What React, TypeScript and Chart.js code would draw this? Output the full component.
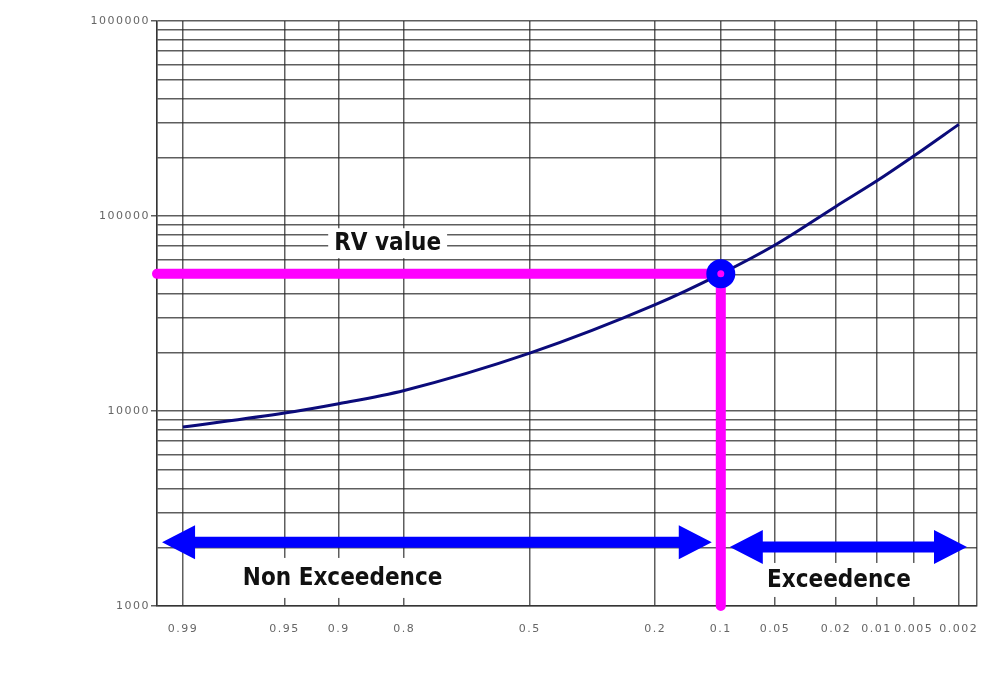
import React, { useEffect, useRef } from "react";
import { Chart, registerables } from "chart.js";

Chart.register(...registerables);

// ---- data ----
const exceedanceLabels = ["0.99", "0.95", "0.9", "0.8", "0.5", "0.2", "0.1", "0.05", "0.02", "0.01", "0.005", "0.002"];
const exceedanceProb = [0.99, 0.95, 0.9, 0.8, 0.5, 0.2, 0.1, 0.05, 0.02, 0.01, 0.005, 0.002];
const rvValues = [8270, 9760, 10900, 12750, 19800, 35100, 50500, 71000, 112000, 151000, 203000, 295000];

const rvPointProb = 0.1;
const rvPointValue = 50500;

const yDecades = [1000, 10000, 100000, 1000000];
const yMultipliers = [1, 2, 3, 4, 5, 6, 7, 8, 9];

const noteTexts = ["RV value", "Non Exceedence", "Exceedence"];
// anchors in data units: [z, value]
const noteAnchors: [number, number][] = [[-0.953, 72500], [-1.255, 1393], [2.074, 1360]];
const noteBoxHeights = [30, 40, 34];

// double arrows in data units: [zStart, zEnd, value]
const arrowSpans: [number, number, number][] = [[-2.466, 1.221, 2120], [1.342, 2.933, 2010]];

// ---- normal quantile (probability axis mapping) ----
function normInv(p: number): number {
  const a = [-3.969683028665376e1, 2.209460984245205e2, -2.759285104469687e2, 1.38357751867269e2, -3.066479806614716e1, 2.506628277459239];
  const b = [-5.447609879822406e1, 1.615858368580409e2, -1.556989798598866e2, 6.680131188771972e1, -1.328068155288572e1];
  const c = [-7.784894002430293e-3, -3.223964580411365e-1, -2.400758277161838, -2.549732539343734, 4.374664141464968, 2.938163982698783];
  const d = [7.784695709041462e-3, 3.224671290700398e-1, 2.445134137142996, 3.754408661907416];
  const pl = 0.02425;
  let q: number, r: number;
  if (p < pl) {
    q = Math.sqrt(-2 * Math.log(p));
    return (((((c[0] * q + c[1]) * q + c[2]) * q + c[3]) * q + c[4]) * q + c[5]) / ((((d[0] * q + d[1]) * q + d[2]) * q + d[3]) * q + 1);
  } else if (p <= 1 - pl) {
    q = p - 0.5;
    r = q * q;
    return ((((((a[0] * r + a[1]) * r + a[2]) * r + a[3]) * r + a[4]) * r + a[5]) * q) / (((((b[0] * r + b[1]) * r + b[2]) * r + b[3]) * r + b[4]) * r + 1);
  }
  q = Math.sqrt(-2 * Math.log(1 - p));
  return -(((((c[0] * q + c[1]) * q + c[2]) * q + c[3]) * q + c[4]) * q + c[5]) / ((((d[0] * q + d[1]) * q + d[2]) * q + d[3]) * q + 1);
}
const zOf = (exc: number) => normInv(1 - exc);

const X_MIN = -2.5;
const X_MAX = 3.0;

const xTickValues = [X_MIN, ...exceedanceProb.map(zOf), X_MAX];
const xTickLabels = ["", ...exceedanceLabels, ""];
const yTickValues: number[] = [];
yDecades.slice(0, -1).forEach((d) => yMultipliers.forEach((m) => yTickValues.push(d * m)));
yTickValues.push(yDecades[yDecades.length - 1]);

const NOTE_FONT = "bold 24px 'DejaVu Sans Condensed', 'DejaVu Sans', sans-serif";

const zeroPadding = (scale: any) => {
  scale.paddingTop = 0;
  scale.paddingBottom = 0;
  scale.paddingLeft = 0;
  scale.paddingRight = 0;
};

const overlayPlugin = {
  id: "overlay",
  beforeDraw(chart: any) {
    chart.ctx.letterSpacing = "1.5px";
  },
  beforeDatasetsDraw(chart: any) {
    const ctx = chart.ctx;
    const xs = chart.scales.x;
    const ys = chart.scales.y;
    ctx.save();
    ctx.letterSpacing = "0px";
    ctx.font = NOTE_FONT;
    noteTexts.forEach((t, i) => {
      const cx = xs.getPixelForValue(noteAnchors[i][0]);
      const cy = ys.getPixelForValue(noteAnchors[i][1]);
      const w = ctx.measureText(t).width + 12;
      const h = noteBoxHeights[i];
      ctx.fillStyle = "#ffffff";
      ctx.fillRect(cx - w / 2, cy - h / 2, w, h);
    });
    ctx.restore();
  },
  afterDatasetsDraw(chart: any) {
    const ctx = chart.ctx;
    const xs = chart.scales.x;
    const ys = chart.scales.y;
    ctx.save();
    ctx.letterSpacing = "0px";
    ctx.fillStyle = "#0000ff";
    const headLen = 33;
    const headHalf = 17;
    const shaftHalf = 5.5;
    arrowSpans.forEach(([z1, z2, v]) => {
      const x1 = xs.getPixelForValue(z1);
      const x2 = xs.getPixelForValue(z2);
      const y = ys.getPixelForValue(v);
      ctx.beginPath();
      ctx.moveTo(x1, y);
      ctx.lineTo(x1 + headLen, y - headHalf);
      ctx.lineTo(x1 + headLen, y - shaftHalf);
      ctx.lineTo(x2 - headLen, y - shaftHalf);
      ctx.lineTo(x2 - headLen, y - headHalf);
      ctx.lineTo(x2, y);
      ctx.lineTo(x2 - headLen, y + headHalf);
      ctx.lineTo(x2 - headLen, y + shaftHalf);
      ctx.lineTo(x1 + headLen, y + shaftHalf);
      ctx.lineTo(x1 + headLen, y + headHalf);
      ctx.closePath();
      ctx.fill();
    });
    ctx.font = NOTE_FONT;
    ctx.fillStyle = "#111111";
    ctx.textAlign = "center";
    ctx.textBaseline = "middle";
    noteTexts.forEach((t, i) => {
      const cx = xs.getPixelForValue(noteAnchors[i][0]);
      const cy = ys.getPixelForValue(noteAnchors[i][1]);
      ctx.fillText(t, cx, cy + 1);
    });
    ctx.restore();
  },
};

export default function App() {
  const canvasRef = useRef<HTMLCanvasElement | null>(null);

  useEffect(() => {
    if (!canvasRef.current) return;
    const curve = exceedanceProb.map((p, i) => ({ x: zOf(p), y: rvValues[i] }));
    const rvZ = zOf(rvPointProb);
    const guide = [
      { x: X_MIN, y: rvPointValue },
      { x: rvZ, y: rvPointValue },
      { x: rvZ, y: yDecades[0] },
    ];
    const gridColor = "rgba(40,40,40,0.75)";
    const chart = new Chart(canvasRef.current, {
      type: "line",
      data: {
        datasets: [
          {
            data: [{ x: rvZ, y: rvPointValue }],
            showLine: false,
            pointRadius: 9,
            pointHoverRadius: 9,
            pointBorderWidth: 11,
            pointBackgroundColor: "#ff00ff",
            pointBorderColor: "#0000ff",
            order: 0,
            clip: false,
          } as any,
          {
            data: guide,
            borderColor: "#ff00ff",
            borderWidth: 10,
            borderCapStyle: "round",
            borderJoinStyle: "round",
            pointRadius: 0,
            tension: 0,
            order: 1,
            clip: false,
          } as any,
          {
            data: curve,
            borderColor: "#0b0b7a",
            borderWidth: 3,
            pointRadius: 0,
            cubicInterpolationMode: "monotone",
            order: 2,
          } as any,
        ],
      },
      options: {
        animation: false,
        responsive: false,
        maintainAspectRatio: false,
        events: [],
        layout: { autoPadding: false, padding: { top: 13, right: 14, left: 0, bottom: 0 } },
        plugins: { legend: { display: false }, tooltip: { enabled: false }, title: { display: false } },
        scales: {
          x: {
            type: "linear",
            min: X_MIN,
            max: X_MAX,
            afterBuildTicks: (scale: any) => {
              scale.ticks = xTickValues.map((v) => ({ value: v }));
            },
            afterFit: (scale: any) => {
              scale.height = 59;
              zeroPadding(scale);
            },
            ticks: {
              autoSkip: false,
              maxRotation: 0,
              minRotation: 0,
              padding: 17,
              color: "#666666",
              font: { family: "'DejaVu Sans', sans-serif", size: 11 },
              callback: (_v: any, i: number) => xTickLabels[i],
            },
            grid: { color: gridColor, lineWidth: 1.5, drawTicks: false },
            border: { color: gridColor, width: 1.5 },
          },
          y: {
            type: "logarithmic",
            min: yDecades[0],
            max: yDecades[yDecades.length - 1],
            afterBuildTicks: (scale: any) => {
              scale.ticks = yTickValues.map((v) => ({ value: v }));
            },
            afterFit: (scale: any) => {
              scale.width = 149;
              zeroPadding(scale);
            },
            ticks: {
              autoSkip: false,
              padding: 1,
              color: "#666666",
              font: { family: "'DejaVu Sans', sans-serif", size: 11 },
              callback: (v: any) => (yDecades.includes(Number(v)) ? String(v) : ""),
            },
            grid: {
              color: gridColor,
              lineWidth: 1.5,
              tickLength: 6,
              tickColor: (c: any) => (c.tick && yDecades.includes(c.tick.value) ? gridColor : "rgba(0,0,0,0)"),
            },
            border: { color: gridColor, width: 1.5 },
          },
        },
      },
      plugins: [overlayPlugin],
    } as any);
    return () => chart.destroy();
  }, []);

  return (
    <div style={{ width: 983, height: 657, position: "relative" }}>
      <canvas ref={canvasRef} width={983} height={657} style={{ width: 983, height: 657, display: "block" }} />
    </div>
  );
}
